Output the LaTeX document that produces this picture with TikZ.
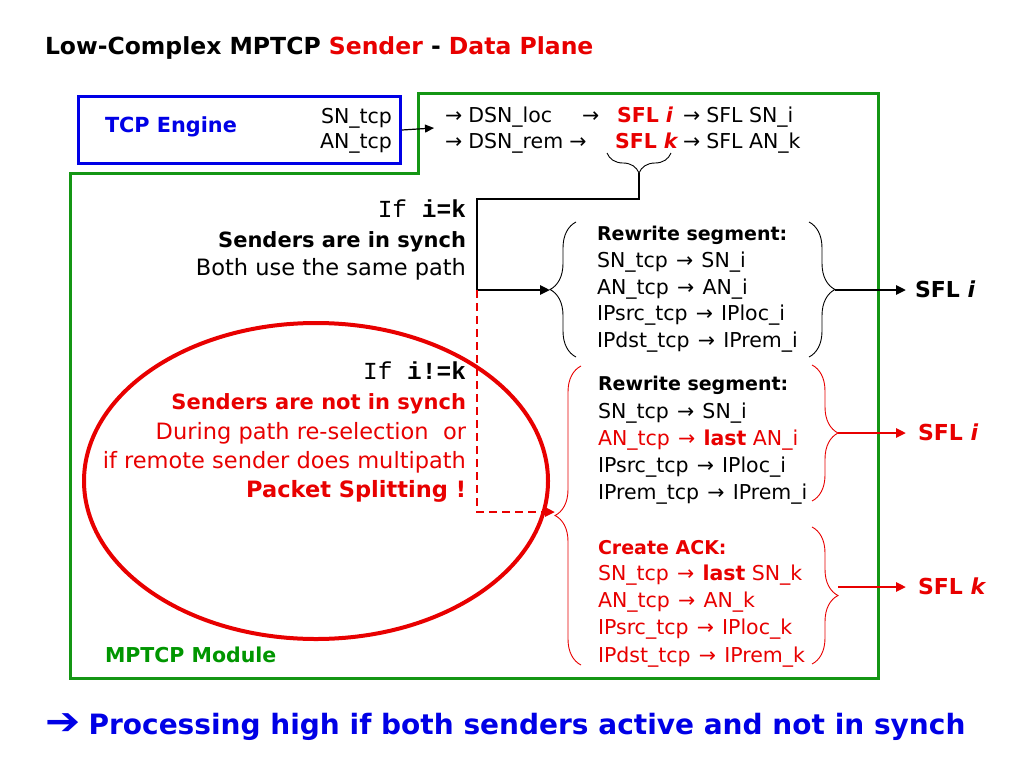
\documentclass[tikz,border=0pt]{standalone}
\usepackage{fontspec}
\setmainfont{DejaVu Sans}
\newfontfamily\cour{Liberation Mono}
\usetikzlibrary{arrows.meta,decorations.pathreplacing,shapes.geometric}
\definecolor{myred}{RGB}{232,0,0}
\definecolor{myblue}{RGB}{0,0,230}
\definecolor{mygreen}{RGB}{0,150,0}
\definecolor{linegreen}{RGB}{20,150,20}
\newcommand{\ar}{\hspace{0.4em}→\hspace{0.4em}}
\tikzset{
  lbl/.style={inner sep=0pt, outer sep=0pt, yshift=-5pt},
  small/.style={lbl, font=\fontsize{20.5}{24}\selectfont},
  smallb/.style={lbl, font=\fontsize{19}{24}\selectfont\bfseries},
  mid/.style={lbl, font=\fontsize{22.5}{26}\selectfont},
  midb/.style={lbl, font=\fontsize{21}{26}\selectfont\bfseries},
  sfl/.style={lbl, font=\fontsize{22}{26}\selectfont\bfseries, anchor=mid west},
  mono/.style={lbl, font=\fontsize{24.5}{28}\selectfont\cour, anchor=mid east},
  conn/.style={line width=2.5pt, -{Triangle[length=10pt,width=9pt]}},
  thinconn/.style={line width=1.2pt, -{Triangle[length=9pt,width=8pt]}},
  vbrace/.style={decorate, decoration={brace, amplitude=26pt, aspect=0.5}, line width=0.9pt},
  hbrace/.style={decorate, decoration={brace, amplitude=20pt}, line width=0.9pt},
}
\begin{document}
\begin{tikzpicture}[x=1pt,y=-1pt]
\useasboundingbox[fill=white] (0,0) rectangle (1024,768);

% title
\node[lbl, anchor=mid west, font=\fontsize{23.5}{28}\selectfont\bfseries] (title) at (45,47)
  {Low-Complex MPTCP \textcolor{myred}{Sender} - \textcolor{myred}{Data Plane}};

% green module outline
\draw[linegreen, line width=3pt] (418,93) -- (878,93) -- (878,678) -- (70,678) -- (70,173) -- (418,173) -- cycle;
\node[lbl, font=\fontsize{20.5}{24}\selectfont\bfseries, anchor=mid west, text=mygreen] (mod) at (105,655) {MPTCP Module};

% TCP engine box
\node[draw=myblue, line width=3pt, minimum width=322pt, minimum height=67pt, anchor=north west, inner sep=0pt] (tcp) at (77,95) {};
\node[lbl, font=\fontsize{20.8}{26}\selectfont\bfseries, anchor=mid west, text=myblue] (tcpt) at (105,125) {TCP Engine};
\node[small, anchor=mid east] (sn) at (392,116) {SN\_tcp};
\node[small, anchor=mid east] (an) at (392,141) {AN\_tcp};
\coordinate (tcpin) at (434,128);
\draw[thinconn] (tcp.east) -- (tcpin);

% top mapping lines
\node[small, anchor=mid west] (t1a) at (445,115) {→\hspace{0.3em}DSN\_loc};
\node[small, anchor=mid west] (t1b) at (582,115) {→};
\node[lbl, font=\fontsize{20.5}{24}\selectfont\bfseries, anchor=mid west, text=myred] (t1c) at (617,115) {SFL \textit{i}};
\node[small, anchor=mid west] (t1d) at (683,115) {→\hspace{0.3em}SFL SN\_i};
\node[small, anchor=mid west] (t2a) at (445,141) {→\hspace{0.3em}DSN\_rem\hspace{0.3em}→};
\node[lbl, font=\fontsize{20.5}{24}\selectfont\bfseries, anchor=mid west, text=myred] (t2c) at (615,141) {SFL \textit{k}};
\node[small, anchor=mid west] (t2d) at (683,141) {→\hspace{0.3em}SFL AN\_k};

% brace under SFL k
\coordinate (hbl) at (607,153);
\coordinate (hbr) at (671,153);
\draw[hbrace] (hbr) -- (hbl);
\coordinate (htip) at (639,173);
\coordinate (c1) at (639,199);
\coordinate (c2) at (477,199);
\coordinate (jn) at (477,290);
\coordinate (jd) at (477,512);

% left condition texts
\node[mono] (if1) at (466,210) {If \textbf{i=k}};
\node[midb, anchor=mid east] (s1) at (466,240) {Senders are in synch};
\node[mid, anchor=mid east] (s2) at (466,268) {Both use the same path};
\node[mono] (if2) at (466,372) {If \textbf{i!=k}};
\node[midb, anchor=mid east, text=myred] (s3) at (466,402) {Senders are not in synch};
\node[mid, anchor=mid east, text=myred] (s4) at (466,432) {During path re-selection\ \ or};
\node[mid, anchor=mid east, text=myred] (s5) at (466,461) {if remote sender does multipath};
\node[lbl, font=\fontsize{22.5}{26}\selectfont\bfseries, anchor=mid east, text=myred] (s6) at (466,490) {Packet Splitting !};

% red ellipse
\node[ellipse, draw=myred, line width=4pt, minimum width=464pt, minimum height=316pt, inner sep=0pt] (ell) at (316,481) {};

% block 1 (synch)
\coordinate (b1t) at (576,222);
\coordinate (b1b) at (576,357);
\draw[vbrace] (b1b) -- (b1t);
\coordinate (b1tip) at (550,290);
\node[smallb, anchor=mid west] (r1) at (597,233) {Rewrite segment:};
\node[small, anchor=mid west] (r2) at (597,260) {SN\_tcp\ar SN\_i};
\node[small, anchor=mid west] (r3) at (597,287) {AN\_tcp\ar AN\_i};
\node[small, anchor=mid west] (r4) at (597,313) {IPsrc\_tcp\ar IPloc\_i};
\node[small, anchor=mid west] (r5) at (597,340) {IPdst\_tcp\ar IPrem\_i};
\coordinate (b1rt) at (809,222);
\coordinate (b1rb) at (809,357);
\draw[vbrace] (b1rt) -- (b1rb);
\coordinate (b1rtip) at (835,290);
\node[sfl] (sfl1) at (915,290) {SFL \textit{i}};
\draw[conn, shorten >=9pt] (b1rtip) -- (b1rtip -| sfl1.west);

% black path
\draw[conn] (htip) -- (c1) -- (c2) -- (jn) -- (b1tip);

% block 2 (not synch)
\coordinate (b2t) at (581,366);
\coordinate (b2b) at (581,665);
\draw[vbrace, myred] (b2b) -- (b2t);
\coordinate (b2tip) at (555,512);
\draw[conn, myred, dash pattern=on 8pt off 5pt] (jn) -- (jd) -- (b2tip);

\node[smallb, anchor=mid west] (q1) at (598,383) {Rewrite segment:};
\node[small, anchor=mid west] (q2) at (598,411) {SN\_tcp\ar SN\_i};
\node[small, anchor=mid west, text=myred] (q3) at (598,438) {AN\_tcp\ar\textbf{last} AN\_i};
\node[small, anchor=mid west] (q4) at (598,465) {IPsrc\_tcp\ar IPloc\_i};
\node[small, anchor=mid west] (q5) at (598,492) {IPrem\_tcp\ar IPrem\_i};
\coordinate (b3t) at (812,365);
\coordinate (b3b) at (812,501);
\draw[vbrace, myred] (b3t) -- (b3b);
\coordinate (b3tip) at (838,433);
\node[sfl, text=myred] (sfl2) at (918,433) {SFL \textit{i}};
\draw[conn, myred, shorten >=12pt] (b3tip) -- (b3tip -| sfl2.west);

\node[smallb, anchor=mid west, text=myred] (k1) at (598,547) {Create ACK:};
\node[small, anchor=mid west, text=myred] (k2) at (598,573) {SN\_tcp\ar\textbf{last} SN\_k};
\node[small, anchor=mid west, text=myred] (k3) at (598,600) {AN\_tcp\ar AN\_k};
\node[small, anchor=mid west, text=myred] (k4) at (598,627) {IPsrc\_tcp\ar IPloc\_k};
\node[small, anchor=mid west, text=myred] (k5) at (598,655) {IPdst\_tcp\ar IPrem\_k};
\coordinate (b4t) at (812,527);
\coordinate (b4b) at (812,664);
\draw[vbrace, myred] (b4t) -- (b4b);
\coordinate (b4tip) at (838,587);
\node[sfl, text=myred] (sfl3) at (918,587) {SFL \textit{k}};
\draw[conn, myred, shorten >=12pt] (b4tip) -- (b4tip -| sfl3.west);

% bottom statement
\node[lbl, anchor=mid west, font=\fontsize{28}{34}\selectfont\bfseries, text=myblue, yshift=-2pt] (bottom) at (45,725)
  {\scalebox{1.5}[1.35]{➔}\hspace{0.3em}Processing high if both senders active and not in synch};
\end{tikzpicture}
\end{document}
